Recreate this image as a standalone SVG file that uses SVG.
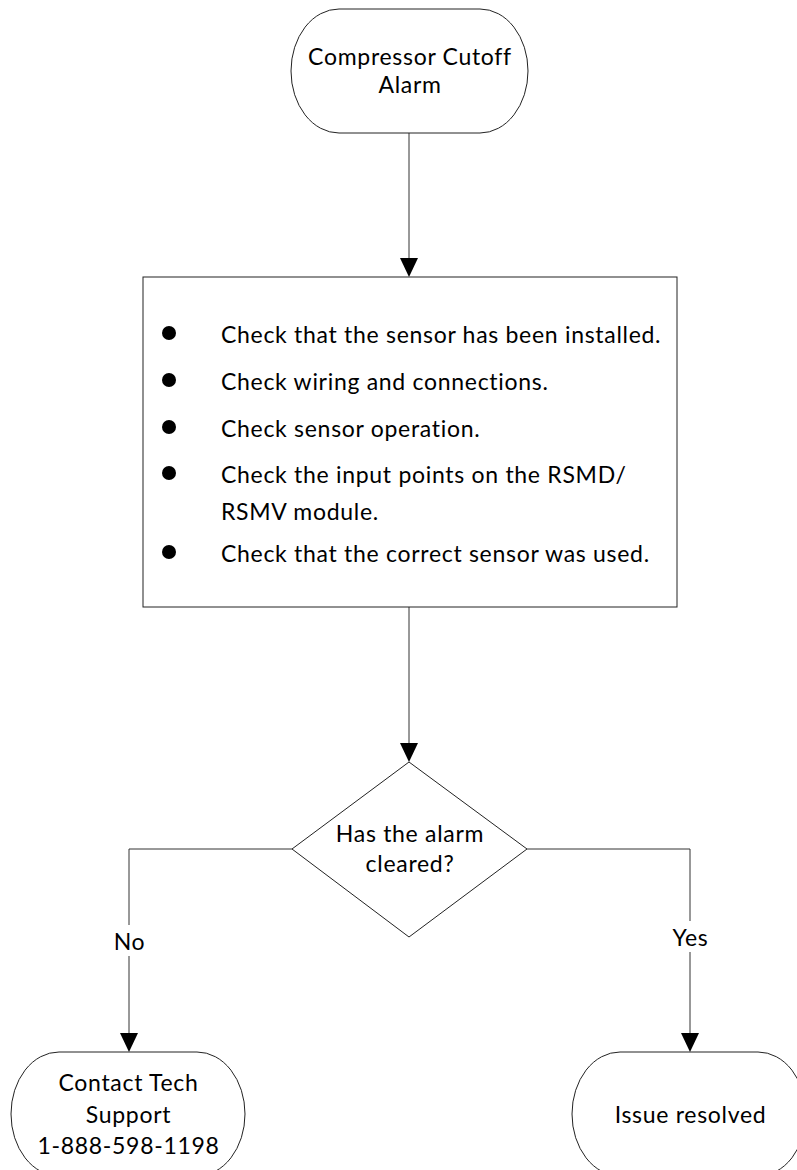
<svg xmlns="http://www.w3.org/2000/svg" width="797" height="1170" viewBox="0 0 797 1170">
<defs>
<style>
.shape{fill:#fff;stroke:#222;stroke-width:1}
.line{fill:none;stroke:#333;stroke-width:1}
.t{font-family:Lato,"Liberation Sans",sans-serif;font-size:23px;letter-spacing:0.7px;fill:#000}
.c{text-anchor:middle}
.lbl{fill:#fff;stroke:none}
.head{fill:#000}
</style>
</defs>
<g id="connectors">
<path class="line" d="M409,133 L409,258"/>
<path class="head" d="M400,258 L418,258 L409,277 Z"/>
<path class="line" d="M409,607 L409,743"/>
<path class="head" d="M400,743 L418,743 L409,762 Z"/>
<path class="line" d="M292,849 L129,849 L129,1033"/>
<path class="head" d="M120,1033 L138,1033 L129,1052 Z"/>
<path class="line" d="M527,849 L690,849 L690,1033"/>
<path class="head" d="M681,1033 L699,1033 L690,1052 Z"/>
<rect class="lbl" x="112" y="925" width="34" height="31"/>
<text class="t c" x="129.5" y="950">No</text>
<rect class="lbl" x="670" y="921" width="40" height="31"/>
<text class="t c" x="690.5" y="946">Yes</text>
</g>
<g id="start">
<rect class="shape" x="291" y="9" width="237" height="124" rx="48" ry="62"/>
<text class="t c" x="410" y="65">Compressor Cutoff</text>
<text class="t c" x="410" y="93">Alarm</text>
</g>
<g id="checks">
<rect class="shape" x="143" y="277" width="534" height="330"/>
<circle cx="169" cy="333" r="7" fill="#000"/>
<circle cx="169" cy="380" r="7" fill="#000"/>
<circle cx="169" cy="427" r="7" fill="#000"/>
<circle cx="169" cy="473" r="7" fill="#000"/>
<circle cx="169" cy="552" r="7" fill="#000"/>
<text class="t" x="221" y="343">Check that the sensor has been installed.</text>
<text class="t" x="221" y="390">Check wiring and connections.</text>
<text class="t" x="221" y="437">Check sensor operation.</text>
<text class="t" x="221" y="483">Check the input points on the RSMD/</text>
<text class="t" x="221" y="520">RSMV module.</text>
<text class="t" x="221" y="562">Check that the correct sensor was used.</text>
</g>
<g id="decision">
<polygon class="shape" points="409,762 527,849 409,937 292,849"/>
<text class="t c" x="410" y="842">Has the alarm</text>
<text class="t c" x="410" y="872">cleared?</text>
</g>
<g id="support">
<rect class="shape" x="11" y="1052" width="234" height="124" rx="48" ry="62"/>
<text class="t c" x="128.5" y="1091">Contact Tech</text>
<text class="t c" x="128.5" y="1123">Support</text>
<text class="t c" x="128.5" y="1154">1-888-598-1198</text>
</g>
<g id="resolved">
<rect class="shape" x="572" y="1052" width="234" height="124" rx="48" ry="62"/>
<text class="t c" x="690.5" y="1123">Issue resolved</text>
</g>
</svg>
